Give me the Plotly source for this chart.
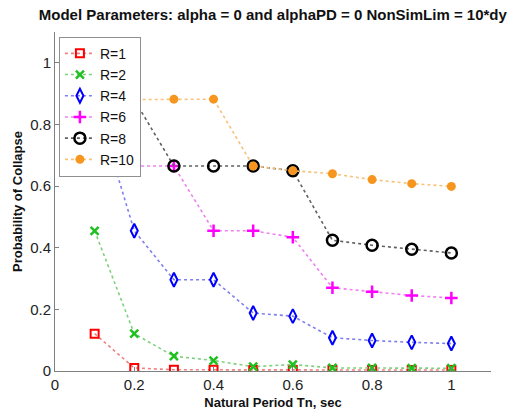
import plotly.graph_objects as go

# Natural period values (sec)
periods = [0.1, 0.2, 0.3, 0.4, 0.5, 0.6, 0.7, 0.8, 0.9, 1.0]

# Probability of collapse per strength reduction factor R
p_r1 = [0.121, 0.010, 0.004, 0.004, 0.003, 0.003, 0.003, 0.003, 0.003, 0.003]
p_r2 = [0.455, 0.121, 0.048, 0.034, 0.014, 0.021, 0.010, 0.010, 0.009, 0.009]
p_r4 = [0.880, 0.455, 0.296, 0.296, 0.188, 0.178, 0.108, 0.099, 0.093, 0.089]
p_r6 = [0.880, 0.665, 0.665, 0.455, 0.455, 0.434, 0.270, 0.257, 0.245, 0.237]
p_r8 = [0.880, 0.880, 0.665, 0.665, 0.665, 0.650, 0.424, 0.408, 0.395, 0.383]
p_r10 = [0.880, 0.880, 0.882, 0.882, 0.665, 0.650, 0.640, 0.621, 0.608, 0.599]

series_names = ["R=1", "R=2", "R=4", "R=6", "R=8", "R=10"]
series_values = [p_r1, p_r2, p_r4, p_r6, p_r8, p_r10]

line_colors = ["#f08080", "#7fd07f", "#7f7fef", "#f080f0", "#606060", "#f7c27a"]
marker_styles = [
    dict(symbol="square-open", size=8, color="#ff0000", line=dict(width=2, color="#ff0000")),
    dict(symbol="x-thin-open", size=8, color="#1fc01f", line=dict(width=2.5, color="#1fc01f")),
    dict(symbol="diamond-tall-open", size=10, color="#0000ff", line=dict(width=2, color="#0000ff")),
    dict(symbol="cross-thin-open", size=9, color="#ff00ff", line=dict(width=2.5, color="#ff00ff")),
    dict(symbol="circle-open", size=11, color="#000000", line=dict(width=2.5, color="#000000")),
    dict(symbol="circle", size=9, color="#f7961e", line=dict(width=0, color="#f7961e")),
]

fig = go.Figure()
for name, vals, lc, mk in zip(series_names, series_values, line_colors, marker_styles):
    fig.add_trace(go.Scatter(
        x=periods, y=vals, name=name, mode="lines+markers",
        line=dict(color=lc, width=1.6, dash="dot"),
        marker=mk,
    ))

axis_font = dict(family="Liberation Sans, Arial, sans-serif", size=15, color="#222222")
fig.update_layout(
    width=510, height=419,
    margin=dict(l=55, r=19, t=32, b=42),
    paper_bgcolor="white", plot_bgcolor="white",
    title=dict(
        text="<b>Model Parameters: alpha = 0 and alphaPD = 0 NonSimLim = 10*dy</b>",
        x=0.535, xanchor="center", y=0.964, yanchor="middle",
        font=dict(family="Liberation Sans, Arial, sans-serif", size=15, color="#111111"),
    ),
    legend=dict(
        x=0.009, y=0.986, xanchor="left", yanchor="top",
        bgcolor="white", bordercolor="#909090", borderwidth=1,
        font=dict(family="Liberation Sans, Arial, sans-serif", size=14, color="#111111"),
        itemwidth=30, tracegroupgap=0,
    ),
    font=axis_font,
)
fig.update_xaxes(
    range=[0, 1.1], tickvals=[0, 0.2, 0.4, 0.6, 0.8, 1.0],
    ticktext=["0", "0.2", "0.4", "0.6", "0.8", "1"],
    showgrid=False, zeroline=False, showline=True, linecolor="#808080", linewidth=1,
    ticks="inside", ticklen=4, tickcolor="#808080",
    tickfont=axis_font,
    title=dict(text="<b>Natural Period Tn, sec</b>", standoff=5,
               font=dict(family="Liberation Sans, Arial, sans-serif", size=13, color="#111111")),
)
fig.update_yaxes(
    range=[0, 1.1], tickvals=[0, 0.2, 0.4, 0.6, 0.8, 1.0],
    ticktext=["0", "0.2", "0.4", "0.6", "0.8", "1"],
    showgrid=False, zeroline=False, showline=True, linecolor="#808080", linewidth=1,
    ticks="inside", ticklen=4, tickcolor="#808080",
    tickfont=axis_font,
    title=dict(text="<b>Probability of Collapse</b>", standoff=4,
               font=dict(family="Liberation Sans, Arial, sans-serif", size=13, color="#111111")),
)

fig.write_html("out.html")
